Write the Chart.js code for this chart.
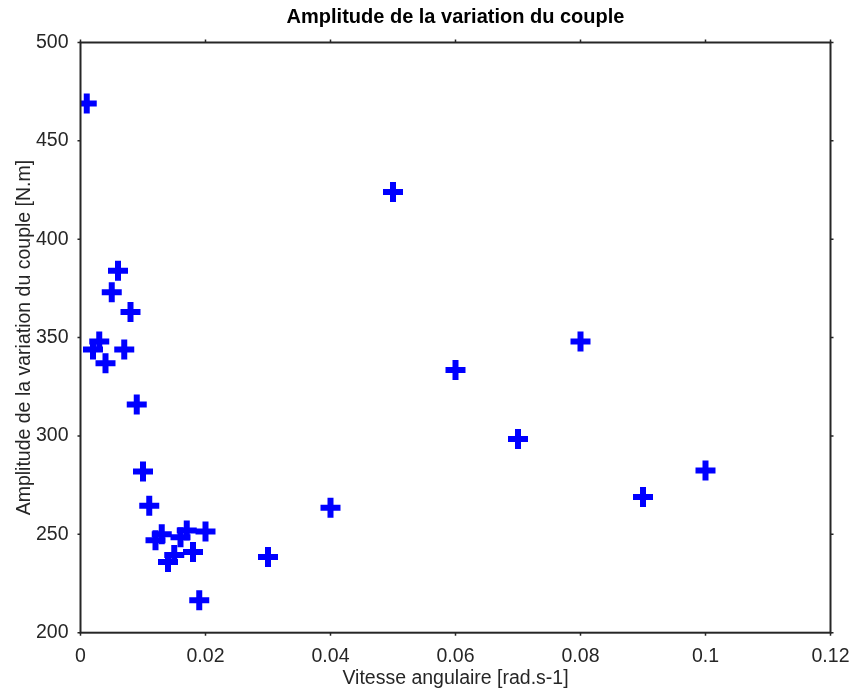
<!DOCTYPE html>
<html>
<head>
<meta charset="utf-8">
<script src="https://cdn.jsdelivr.net/npm/chart.js@4"></script>
<style>
  html, body { margin: 0; padding: 0; background: #fff; }
  #wrap { width: 851px; height: 693px; }
</style>
</head>
<body>
<div id="wrap"><canvas id="graphique"></canvas></div>
<script>
// Données
const vitesses = [0.001, 0.002, 0.003, 0.004, 0.005, 0.006, 0.007, 0.008, 0.009, 0.010,
                  0.011, 0.012, 0.013, 0.014, 0.015, 0.016, 0.017, 0.018, 0.019, 0.020,
                  0.03, 0.04, 0.05, 0.06, 0.07, 0.08, 0.09, 0.1];
const amplitudes = [469, 344, 348, 337, 373, 384, 344, 363, 316, 282,
                    264.5, 247, 250, 236, 239.5, 248.5, 252, 241, 216.5, 251.5,
                    238.5, 263.5, 424, 333.5, 298.5, 348, 269, 282.5];
const xTickLabels = ['0', '0.02', '0.04', '0.06', '0.08', '0.1', '0.12'];
const yTickLabels = ['200', '250', '300', '350', '400', '450', '500'];

const police = "'Liberation Sans', Helvetica, Arial, sans-serif";
const gris = '#262626';

// Cadre complet + petites graduations extérieures (style MATLAB)
const cadre = {
  id: 'cadre',
  afterDraw(chart) {
    const { ctx, chartArea: a, scales } = chart;
    ctx.save();
    ctx.strokeStyle = gris;
    ctx.lineWidth = 2;
    ctx.strokeRect(a.left, a.top, a.right - a.left, a.bottom - a.top);
    ctx.lineWidth = 1.5;
    ctx.beginPath();
    scales.x.ticks.forEach(t => {
      const px = scales.x.getPixelForValue(t.value);
      ctx.moveTo(px, a.bottom); ctx.lineTo(px, a.bottom + 3);
      ctx.moveTo(px, a.top); ctx.lineTo(px, a.top - 3);
    });
    scales.y.ticks.forEach(t => {
      const py = scales.y.getPixelForValue(t.value);
      ctx.moveTo(a.left, py); ctx.lineTo(a.left - 3, py);
      ctx.moveTo(a.right, py); ctx.lineTo(a.right + 3, py);
    });
    ctx.stroke();
    ctx.restore();
  }
};

const ctx = document.getElementById('graphique').getContext('2d');
new Chart(ctx, {
  type: 'scatter',
  data: {
    datasets: [{
      data: vitesses.map((v, i) => ({ x: v, y: amplitudes[i] })),
      pointStyle: 'cross',
      pointRadius: 10,
      pointHoverRadius: 10,
      pointBorderWidth: 6,
      pointHoverBorderWidth: 6,
      borderColor: '#0000ff',
      backgroundColor: '#0000ff'
    }]
  },
  options: {
    responsive: true,
    maintainAspectRatio: false,
    animation: false,
    events: [],
    layout: { padding: { left: 0, right: 20.5, top: 0, bottom: 0 } },
    plugins: {
      legend: { display: false },
      tooltip: { enabled: false },
      title: {
        display: true,
        fullSize: false,
        text: 'Amplitude de la variation du couple',
        color: '#000',
        font: { family: police, size: 20, weight: 'bold', lineHeight: 1.2 },
        padding: { top: 5.5, bottom: 13 }
      }
    },
    scales: {
      x: {
        type: 'linear',
        min: 0,
        max: 0.12,
        grid: { display: false, drawTicks: false },
        border: { display: false },
        ticks: {
          stepSize: 0.02,
          padding: 12,
          color: gris,
          font: { family: police, size: 19.5 },
          maxRotation: 0,
          callback: (v, i) => xTickLabels[i]
        },
        title: {
          display: true,
          text: 'Vitesse angulaire [rad.s-1]',
          color: gris,
          font: { family: police, size: 19.5, lineHeight: 1.2 },
          padding: { top: 0, bottom: 2.3 }
        },
        afterFit(scale) {
          scale.height = 60.3;
          scale.paddingLeft = 0;
          scale.paddingRight = 0;
        }
      },
      y: {
        type: 'linear',
        min: 200,
        max: 500,
        grid: { display: false, drawTicks: false },
        border: { display: false },
        ticks: {
          stepSize: 50,
          padding: 12,
          color: gris,
          font: { family: police, size: 19.5 },
          callback: (v, i) => yTickLabels[i]
        },
        title: {
          display: true,
          text: 'Amplitude de la variation du couple [N.m]',
          color: gris,
          font: { family: police, size: 19.5, lineHeight: 1.2 },
          padding: { top: 12.5, bottom: 0 }
        },
        afterFit(scale) {
          scale.width = 80.5;
          scale.paddingTop = 0;
          scale.paddingBottom = 0;
        }
      }
    }
  },
  plugins: [cadre]
});
</script>
</body>
</html>
